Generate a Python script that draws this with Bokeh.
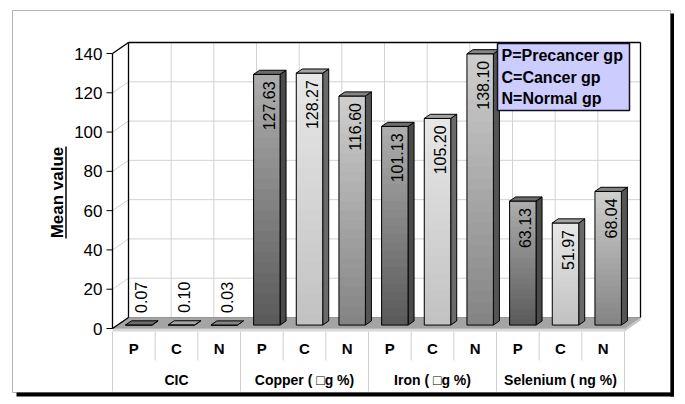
import math
from bokeh.plotting import figure
from bokeh.models import Range1d
from bokeh.core.properties import value
from bokeh.embed import file_html
from bokeh.resources import INLINE

# ---------------- data ----------------
groups = ["CIC", "Copper ( \u25a1g %)", "Iron ( \u25a1g %)", "Selenium ( ng %)"]
subgroups = ["P", "C", "N"]
cic = [0.07, 0.10, 0.03]
copper = [127.63, 128.27, 116.60]
iron = [101.13, 105.20, 138.10]
selenium = [63.13, 51.97, 68.04]
y_ticks = [0, 20, 40, 60, 80, 100, 120, 140]
legend_lines = ["P=Precancer gp", "C=Cancer gp", "N=Normal gp"]
y_title = "Mean value"

series = [cic, copper, iron, selenium]
values = [v for s in series for v in s]
sub_of_bar = [subgroups[j] for _ in series for j in range(len(subgroups))]
n = len(values)
ymax = y_ticks[-1]

# ---------------- layout helpers (image pixel -> data) ----------------
W, H = 680, 400
SX = 512 / n          # px per category slot
SY = 275 / ymax       # px per value unit
def ix(x):
    return (x - 112) / SX
def iy(y):
    return (328 - y) / SY

DX, DY = 16 / SX, 11 / SY   # depth of the 3-D box
B0, B1 = 5 / 16, 11 / 16     # depth band of bars
HW = 0.31                    # half bar width in slots

FONT = value("Liberation Sans")

p = figure(width=W, height=H, output_backend="svg", toolbar_location=None,
           x_range=Range1d(ix(0), ix(W)), y_range=Range1d(iy(H), iy(0)),
           x_axis_location=None, y_axis_location=None, min_border=0)
p.grid.visible = False
p.outline_line_color = None
p.background_fill_color = "white"
p.border_fill_color = "white"

# ---------------- outer frame with shadow ----------------
p.quad(left=[ix(12)], right=[ix(670)], top=[iy(10)], bottom=[iy(392)],
       fill_color="white", line_color="#b4b4b4", line_width=1)
p.quad(left=[ix(670), ix(16)], right=[ix(673.5), ix(673.5)],
       top=[iy(13), iy(392)], bottom=[iy(396), iy(396)],
       fill_color="black", line_color=None)

# ---------------- walls ----------------
p.quad(left=[DX], right=[n + DX], bottom=[DY], top=[ymax + DY],
       fill_color="white", line_color=None)
grid_col = "#d2d2d2"
p.segment(x0=[DX] * len(y_ticks), x1=[n + DX] * len(y_ticks),
          y0=[v + DY for v in y_ticks], y1=[v + DY for v in y_ticks],
          line_color=grid_col, line_width=1)
p.segment(x0=[i + DX for i in range(1, n)], x1=[i + DX for i in range(1, n)],
          y0=[DY] * (n - 1), y1=[ymax + DY] * (n - 1),
          line_color=grid_col, line_width=1)
p.segment(x0=[0] * len(y_ticks), x1=[DX] * len(y_ticks),
          y0=y_ticks, y1=[v + DY for v in y_ticks],
          line_color=grid_col, line_width=1)

# floor
SLAB = 3 / SY
p.patch(x=[0, n, n + DX, DX], y=[0, 0, DY, DY], fill_color="#a4a4a4",
        line_color="#8a8a8a", line_width=0.8)
p.quad(left=[0], right=[n], top=[0], bottom=[-SLAB], fill_color="#d8d8d8",
       line_color=None)
p.patch(x=[n, n + DX, n + DX, n], y=[0, DY, DY - SLAB, -SLAB],
        fill_color="#c4c4c4", line_color=None)

# wall edges
p.multi_line(xs=[[DX, DX], [DX, n + DX], [n + DX, n + DX], [0, 0], [0, DX], [0, DX]],
             ys=[[DY, ymax + DY], [ymax + DY, ymax + DY], [DY, ymax + DY],
                 [0, ymax], [ymax, ymax + DY], [0, DY]],
             line_color="black", line_width=1.3)

# y ticks
p.segment(x0=[ix(106)] * len(y_ticks), x1=[0] * len(y_ticks), y0=y_ticks, y1=y_ticks,
          line_color="black", line_width=1)
p.text(x=[ix(102)] * len(y_ticks), y=y_ticks, text=[str(v) for v in y_ticks],
       text_font=FONT, text_font_size="17px", text_align="right",
       text_baseline="middle", text_color="black")

# y title with underline
p.text(x=[ix(57)], y=[iy(192)], text=[y_title], angle=math.pi / 2,
       text_font=FONT, text_font_size="17px", text_font_style="bold",
       text_align="center", text_baseline="middle", text_color="black")
p.segment(x0=[ix(65.5)], x1=[ix(65.5)], y0=[iy(238)], y1=[iy(146)],
          line_color="black", line_width=1.5)

# ---------------- bars ----------------
grad = {"P": ((0x5a, 0x5a, 0x5a), (0xae, 0xae, 0xae)),
        "C": ((0xc2, 0xc2, 0xc2), (0xe8, 0xe8, 0xe8)),
        "N": ((0x84, 0x84, 0x84), (0xcf, 0xcf, 0xcf))}
top_col = {"P": "#6c6c6c", "C": "#a4a4a4", "N": "#848484"}
side_col = {"P": "#4a4a4a", "C": "#6a6a6a", "N": "#555555"}

NB = 24
bl, br, bb, bt, bc = [], [], [], [], []
fl, fr, fb, ft = [], [], [], []
sxs, sys_, scs = [], [], []
txs, tys, tcs = [], [], []
ddx, ddy = (B1 - B0) * DX, (B1 - B0) * DY
for i, v in enumerate(values):
    g = sub_of_bar[i]
    xl = i + 0.5 - HW + B0 * DX
    xr = i + 0.5 + HW + B0 * DX
    y0 = B0 * DY
    y1 = v + B0 * DY
    c0, c1 = grad[g]
    for k in range(NB):
        t = (k + 0.5) / NB
        col = "#%02x%02x%02x" % tuple(int(c0[m] + (c1[m] - c0[m]) * t) for m in range(3))
        bl.append(xl); br.append(xr)
        bb.append(y0 + (y1 - y0) * k / NB)
        bt.append(min(y1, y0 + (y1 - y0) * (k + 1.8) / NB))
        bc.append(col)
    fl.append(xl); fr.append(xr); fb.append(y0); ft.append(y1)
    sxs.append([xr, xr, xr + ddx, xr + ddx]); sys_.append([y0, y1, y1 + ddy, y0 + ddy])
    scs.append(side_col[g])
    txs.append([xl, xr, xr + ddx, xl + ddx]); tys.append([y1, y1, y1 + ddy, y1 + ddy])
    tcs.append(top_col[g])

p.patches(xs=sxs, ys=sys_, fill_color=scs, line_color="black", line_width=1)
p.quad(left=bl, right=br, bottom=bb, top=bt, fill_color=bc, line_color=None)
p.quad(left=fl, right=fr, bottom=fb, top=ft, fill_color=None, line_color="black", line_width=1)
p.patches(xs=txs, ys=tys, fill_color=tcs, line_color="black", line_width=1)

# value labels
lab_in = dict(x=[], y=[], t=[])
lab_out = dict(x=[], y=[], t=[])
for i, v in enumerate(values):
    xc = i + 0.5 + B0 * DX + 0.06
    if v * SY > 60:
        lab_in["x"].append(xc); lab_in["y"].append(v + B0 * DY - 7 / SY)
        lab_in["t"].append("%.2f" % v)
    else:
        lab_out["x"].append(xc); lab_out["y"].append(v + B0 * DY + 12 / SY)
        lab_out["t"].append("%.2f" % v)
p.text(x=lab_in["x"], y=lab_in["y"], text=lab_in["t"], angle=math.pi / 2,
       text_font=FONT, text_font_size="16px", text_align="right",
       text_baseline="middle", text_color="black")
p.text(x=lab_out["x"], y=lab_out["y"], text=lab_out["t"], angle=math.pi / 2,
       text_font=FONT, text_font_size="16px", text_align="left",
       text_baseline="middle", text_color="black")

# ---------------- category axis (two levels) ----------------
sep_x = list(range(n + 1))
p.segment(x0=sep_x, x1=sep_x, y0=[-SLAB] * len(sep_x),
          y1=[iy(391) if i % len(subgroups) == 0 else iy(360) for i in sep_x],
          line_color="#cfcfcf", line_width=1)
p.text(x=[i + 0.5 for i in range(n)], y=[iy(348)] * n, text=sub_of_bar,
       text_font=FONT, text_font_size="15px", text_font_style="bold",
       text_align="center", text_baseline="middle", text_color="black")
ng = len(groups)
p.text(x=[len(subgroups) * gi + len(subgroups) / 2 for gi in range(ng)], y=[iy(379)] * ng,
       text=groups, text_font=FONT, text_font_size="14px", text_font_style="bold",
       text_align="center", text_baseline="middle", text_color="black")

# ---------------- legend box ----------------
p.quad(left=[ix(497)], right=[ix(629)], top=[iy(43)], bottom=[iy(110)],
       fill_color="#ccccff", line_color="#111122", line_width=1.5)
p.text(x=[ix(501)] * 3, y=[iy(55), iy(77), iy(98)], text=legend_lines,
       text_font=FONT, text_font_size="16px", text_font_style="bold",
       text_align="left", text_baseline="middle", text_color="black")

open("out.html", "w").write(file_html(p, INLINE))
